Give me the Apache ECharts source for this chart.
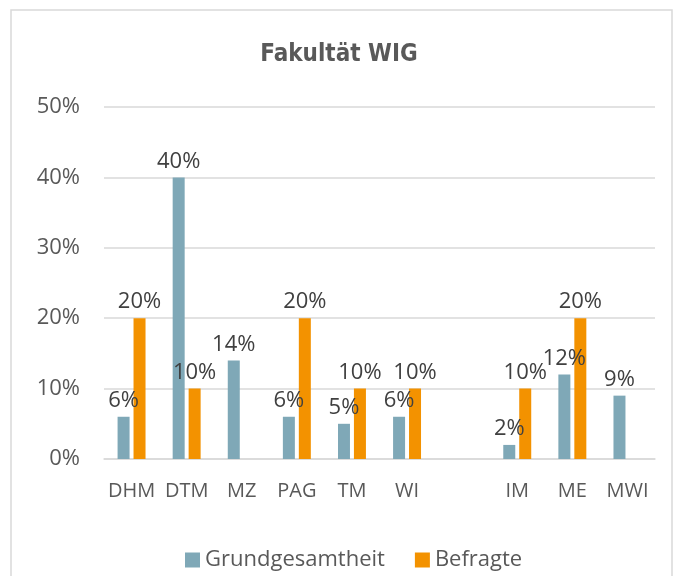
<!DOCTYPE html>
<html>
<head>
<meta charset="utf-8">
<script src="https://cdn.jsdelivr.net/npm/echarts@6/dist/echarts.min.js"></script>
<style>
  html, body { margin: 0; padding: 0; background: #fff; }
  #main { width: 678px; height: 576px; }
</style>
</head>
<body>
<div id="main"></div>
<script>
// categories (empty slot separates the two groups)
var categories = ['DHM', 'DTM', 'MZ', 'PAG', 'TM', 'WI', '', 'IM', 'ME', 'MWI'];
var grundgesamtheit = [6, 40, 14, 6, 5, 6, null, 2, 12, 9];
var befragte = [20, 10, null, 20, 10, 10, null, 10, 20, null];
var yTicks = [0, 10, 20, 30, 40, 50];

var textColor = '#595959';
var labelFont = 'Open Sans';

var myChart = echarts.init(document.getElementById('main'));

var option = {
    backgroundColor: '#fff',
    animation: false,
    graphic: [{
        type: 'rect',
        shape: { x: 11, y: 10, width: 661, height: 600 },
        style: { fill: 'none', stroke: '#d9d9d9', lineWidth: 1.5 }
    }],
    title: {
        text: 'Fakultät WIG',
        left: 'center',
        top: 38,
        textStyle: {
            fontFamily: 'DejaVu Sans Condensed',
            fontWeight: 'bold',
            fontSize: 24,
            color: textColor
        }
    },
    legend: {
        bottom: 0,
        left: 180,
        itemWidth: 15,
        itemHeight: 15,
        itemGap: 30,
        icon: 'rect',
        textStyle: { fontFamily: labelFont, fontSize: 22, color: textColor },
        data: ['Grundgesamtheit', 'Befragte']
    },
    grid: { left: 104, right: 23, top: 107, bottom: 117 },
    xAxis: {
        type: 'category',
        data: categories,
        axisTick: { show: false },
        axisLine: { lineStyle: { color: '#d9d9d9', width: 1.5 } },
        axisLabel: { interval: 0, fontFamily: labelFont, fontSize: 20, color: textColor, margin: 22 }
    },
    yAxis: {
        type: 'value',
        min: yTicks[0],
        max: yTicks[yTicks.length - 1],
        interval: 10,
        axisLine: { show: false },
        axisTick: { show: false },
        splitLine: { lineStyle: { color: '#d9d9d9', width: 1.5 } },
        axisLabel: {
            fontFamily: labelFont, fontSize: 22, color: textColor, margin: 24,
            formatter: function (v) { return v + '%'; }
        }
    },
    series: [
        {
            name: 'Grundgesamtheit',
            type: 'bar',
            data: grundgesamtheit,
            barWidth: 12,
            barGap: '33%',
            itemStyle: { color: '#7FA8B7' },
            label: {
                show: true, position: 'top', distance: 5,
                fontFamily: labelFont, fontSize: 22, color: '#404040',
                formatter: '{c}%'
            }
        },
        {
            name: 'Befragte',
            type: 'bar',
            data: befragte,
            barWidth: 12,
            itemStyle: { color: '#F39200' },
            label: {
                show: true, position: 'top', distance: 5,
                fontFamily: labelFont, fontSize: 22, color: '#404040',
                formatter: '{c}%'
            }
        }
    ]
};

myChart.setOption(option);
</script>
</body>
</html>
